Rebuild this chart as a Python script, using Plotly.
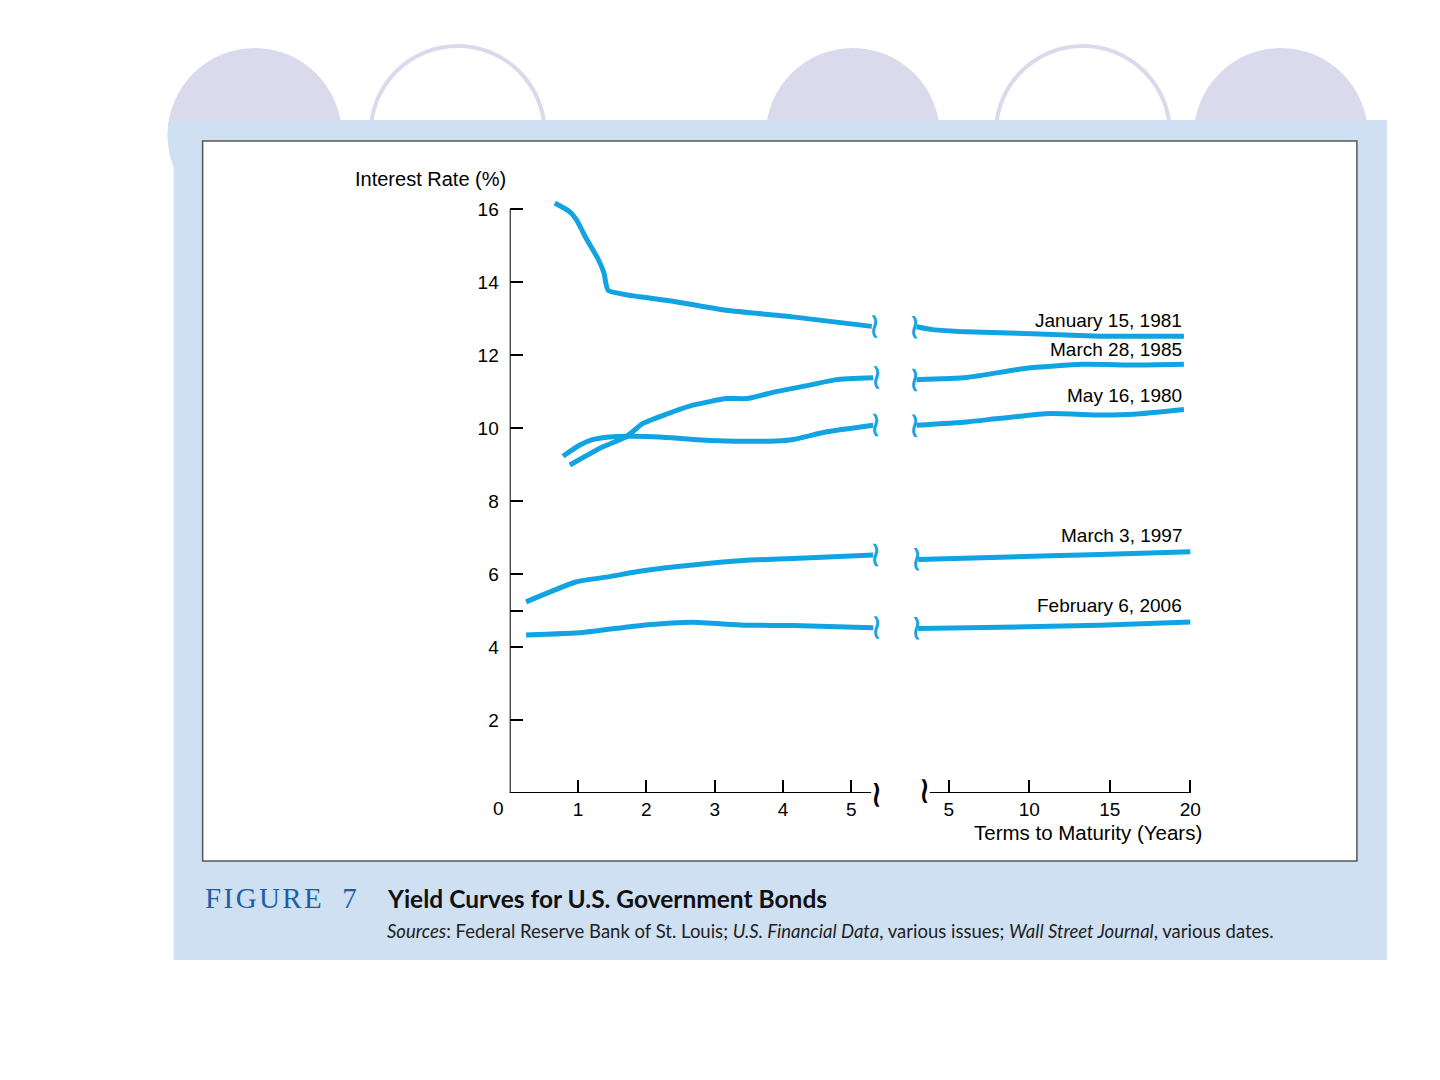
import math
import plotly.graph_objects as go

# yield curves, short end (0-5 yrs) and long end (5-20 yrs)
jan81_short_x = [0.66, 0.88, 0.98, 1.12, 1.29, 1.38, 1.44, 1.90, 2.39, 3.17, 4.14, 5.30]
jan81_short_y = [16.17, 15.93, 15.70, 15.20, 14.65, 14.25, 13.78, 13.60, 13.48, 13.23, 13.05, 12.79]
jan81_long_x = [3.0, 4.0, 6.1, 10.2, 14.4, 17.0, 19.6]
jan81_long_y = [12.78, 12.70, 12.64, 12.59, 12.52, 12.52, 12.52]

mar85_short_x = [0.88, 1.32, 1.71, 1.95, 2.39, 2.68, 3.17, 3.47, 3.90, 4.39, 4.78, 5.32]
mar85_short_y = [8.99, 9.45, 9.77, 10.13, 10.45, 10.63, 10.81, 10.81, 11.00, 11.18, 11.33, 11.38]
mar85_long_x = [3.0, 6.1, 9.8, 13.3, 16.5, 19.6]
mar85_long_y = [11.33, 11.39, 11.64, 11.75, 11.73, 11.75]

may80_short_x = [0.78, 1.02, 1.22, 1.46, 1.71, 2.20, 2.68, 3.17, 3.90, 4.15, 4.64, 5.32]
may80_short_y = [9.23, 9.53, 9.69, 9.76, 9.78, 9.76, 9.69, 9.65, 9.65, 9.69, 9.90, 10.08]
may80_long_x = [3.0, 6.1, 8.2, 11.3, 14.4, 16.5, 19.6]
may80_long_y = [10.08, 10.17, 10.27, 10.40, 10.36, 10.38, 10.51]

mar97_short_x = [0.24, 0.98, 1.46, 1.95, 2.68, 3.42, 4.15, 5.32]
mar97_short_y = [5.24, 5.79, 5.93, 6.09, 6.25, 6.37, 6.43, 6.52]
mar97_long_x = [3.1, 8.2, 14.4, 20.0]
mar97_long_y = [6.40, 6.46, 6.54, 6.61]

feb06_short_x = [0.24, 1.07, 1.95, 2.68, 3.42, 4.15, 5.32]
feb06_short_y = [4.33, 4.40, 4.60, 4.68, 4.60, 4.59, 4.53]
feb06_long_x = [3.1, 8.2, 14.4, 20.0]
feb06_long_y = [4.51, 4.54, 4.60, 4.69]

curve_names = ["January 15, 1981", "March 28, 1985", "May 16, 1980", "March 3, 1997", "February 6, 2006"]

y_ticks = [2, 4, 5, 6, 8, 10, 12, 14, 16]
y_ticktext = ["2", "4", "", "6", "8", "10", "12", "14", "16"]
short_ticks = [1, 2, 3, 4, 5]
long_ticks = [5, 10, 15, 20]

# page has an 8px body margin; keep the figure small enough to avoid scrollbars
OFF = 8
W, H = 1400, 1040
XS = 0.9955  # horizontal squeeze seen in the screenshots
BLUE = "#12a3e2"
PANEL = "#cfe0f2"
LAVENDER = "#dadaec"
FONT = "Liberation Sans, Arial, sans-serif"


def px(x):
    return (x - 8.4) / (XS * W)


def py(y):
    return 1 - (y - OFF) / H


curves = [
    (jan81_short_x, jan81_short_y, jan81_long_x, jan81_long_y),
    (mar85_short_x, mar85_short_y, mar85_long_x, mar85_long_y),
    (may80_short_x, may80_short_y, may80_long_x, may80_long_y),
    (mar97_short_x, mar97_short_y, mar97_long_x, mar97_long_y),
    (feb06_short_x, feb06_short_y, feb06_long_x, feb06_long_y),
]
label_y = [12.95, 12.15, 10.9, 7.05, 5.15]

fig = go.Figure()
annotations = []
for name, (sx, sy, lx, ly), ly_lab in zip(curve_names, curves, label_y):
    fig.add_trace(go.Scatter(x=sx, y=sy, xaxis="x", yaxis="y", mode="lines",
                             line=dict(color=BLUE, width=5, shape="spline", smoothing=0.5),
                             name=name, showlegend=False, hoverinfo="skip"))
    fig.add_trace(go.Scatter(x=lx, y=ly, xaxis="x2", yaxis="y", mode="lines",
                             line=dict(color=BLUE, width=5, shape="spline", smoothing=0.5),
                             name=name, showlegend=False, hoverinfo="skip"))
    # little break marks at both sides of the gap
    annotations.append(dict(x=sx[-1], y=sy[-1], xref="x", yref="y", text="~", textangle=90,
                            showarrow=False, xshift=4, yanchor="middle",
                            font=dict(size=36, color=BLUE, family="DejaVu Sans")))
    annotations.append(dict(x=lx[0], y=ly[0], xref="x2", yref="y", text="~", textangle=90,
                            showarrow=False, xshift=-1, yanchor="middle",
                            font=dict(size=36, color=BLUE, family="DejaVu Sans")))
    annotations.append(dict(x=19.6, y=ly_lab, xref="x2", yref="y", text=name, xanchor="right",
                            yanchor="middle", showarrow=False,
                            font=dict(size=19, color="black", family=FONT)))

# axis break marks
annotations.append(dict(x=5.39, y=0, xref="x", yref="y", text="~", textangle=90, showarrow=False,
                        yshift=-2, yanchor="middle", font=dict(size=38, color="black", family="DejaVu Sans")))
annotations.append(dict(x=3.57, y=0, xref="x2", yref="y", text="~", textangle=90, showarrow=False,
                        yshift=2, yanchor="middle", font=dict(size=38, color="black", family="DejaVu Sans")))

annotations += [
    dict(x=px(508), y=py(179), xref="paper", yref="paper", text="Interest Rate (%)", xanchor="right",
         yanchor="middle", showarrow=False, font=dict(size=20, color="black", family=FONT)),
    dict(x=px(499), y=py(808), xref="paper", yref="paper", text="0", xanchor="center",
         yanchor="middle", showarrow=False, font=dict(size=19, color="black", family=FONT)),
    dict(x=px(1204), y=py(832), xref="paper", yref="paper", text="Terms to Maturity (Years)", xanchor="right",
         yanchor="middle", showarrow=False, font=dict(size=20.5, color="black", family=FONT)),
    dict(x=px(203), y=py(898), xref="paper", yref="paper", xanchor="left", yanchor="middle",
         text="F\u200aI\u200aG\u200aU\u200aR\u200aE\u2002\u20097",
         showarrow=False, font=dict(size=29, color="#1d5ea8", family="Liberation Serif, serif")),
    dict(x=px(385), y=py(898), xref="paper", yref="paper", xanchor="left", yanchor="middle",
         text="<b>Yield Curves for U.S. Government Bonds</b>",
         showarrow=False, font=dict(size=24.5, color="#111111", family="Lato, sans-serif")),
    dict(x=px(385), y=py(931), xref="paper", yref="paper", xanchor="left", yanchor="middle",
         text="<i>Sources</i>: Federal Reserve Bank of St. Louis; <i>U.S. Financial Data</i>, various issues; "
              "<i>Wall Street Journal</i>, various dates.",
         showarrow=False, font=dict(size=18.5, color="#222222", family="Lato, sans-serif")),
]

shapes = []
# decorative circles at the top
R = 87
circles = [(255, 135, True), (458, 133, False), (853, 135, True), (1083, 133, False), (1281, 135, True)]
for cx, cy, filled in circles:
    shapes.append(dict(type="circle", xref="paper", yref="paper", layer="below",
                       x0=px(cx - R), x1=px(cx + R), y0=py(cy + R), y1=py(cy - R),
                       fillcolor=LAVENDER if filled else "white",
                       line=dict(color=LAVENDER, width=0 if filled else 4)))
# light blue panel + white frame
shapes.append(dict(type="rect", xref="paper", yref="paper", layer="below",
                   x0=px(174), x1=px(1387), y0=py(960), y1=py(120),
                   fillcolor=PANEL, line=dict(width=0)))
# the first circle pokes out left of the panel; below the panel top it takes the panel colour
cx, cy = circles[0][:2]
pts = []
for k in range(0, 31):
    yy = 120 + k * (cy + 32 - 120) / 30
    dx = math.sqrt(max(R * R - (yy - cy) ** 2, 0))
    pts.append((cx - dx, yy))
path = "M " + " L ".join(f"{px(a):.5f},{py(b):.5f}" for a, b in pts)
path += f" L {px(175):.5f},{py(pts[-1][1]):.5f} L {px(175):.5f},{py(120):.5f} Z"
shapes.append(dict(type="path", xref="paper", yref="paper", layer="below", path=path,
                   fillcolor=PANEL, line=dict(width=0)))
shapes.append(dict(type="rect", xref="paper", yref="paper", layer="below",
                   x0=px(203), x1=px(1357), y0=py(861), y1=py(141),
                   fillcolor="white", line=dict(color="#555555", width=1.5)))
# axis lines
shapes += [
    dict(type="line", xref="x", yref="y", x0=0, x1=0, y0=0, y1=16, line=dict(color="black", width=2)),
    dict(type="line", xref="x", yref="y", x0=0, x1=5.29, y0=0, y1=0, line=dict(color="black", width=2)),
    dict(type="line", xref="x2", yref="y", x0=3.82, x1=20, y0=0, y1=0, line=dict(color="black", width=2)),
]

axis_common = dict(showgrid=False, zeroline=False, showline=False, ticks="inside", ticklen=13,
                   tickwidth=1.5, tickcolor="black", tickfont=dict(size=19, color="black", family=FONT))

fig.update_layout(
    width=W, height=H,
    margin=dict(l=0, r=0, t=0, b=0),
    paper_bgcolor="white",
    plot_bgcolor="rgba(0,0,0,0)",
    xaxis=dict(domain=[px(510), px(885)], range=[0, 5.49], tickvals=short_ticks, anchor="y",
               ticklabelstandoff=3, **axis_common),
    xaxis2=dict(domain=[px(905), px(1195)], range=[2.27, 20.28], tickvals=long_ticks, anchor="y",
                ticklabelstandoff=3, **axis_common),
    yaxis=dict(domain=[py(793), py(191)], range=[0, 16.5], tickvals=y_ticks, ticktext=y_ticktext,
               anchor="x", ticklabelstandoff=10, **axis_common),
    shapes=shapes,
    annotations=annotations,
)

fig.write_html("out.html")
